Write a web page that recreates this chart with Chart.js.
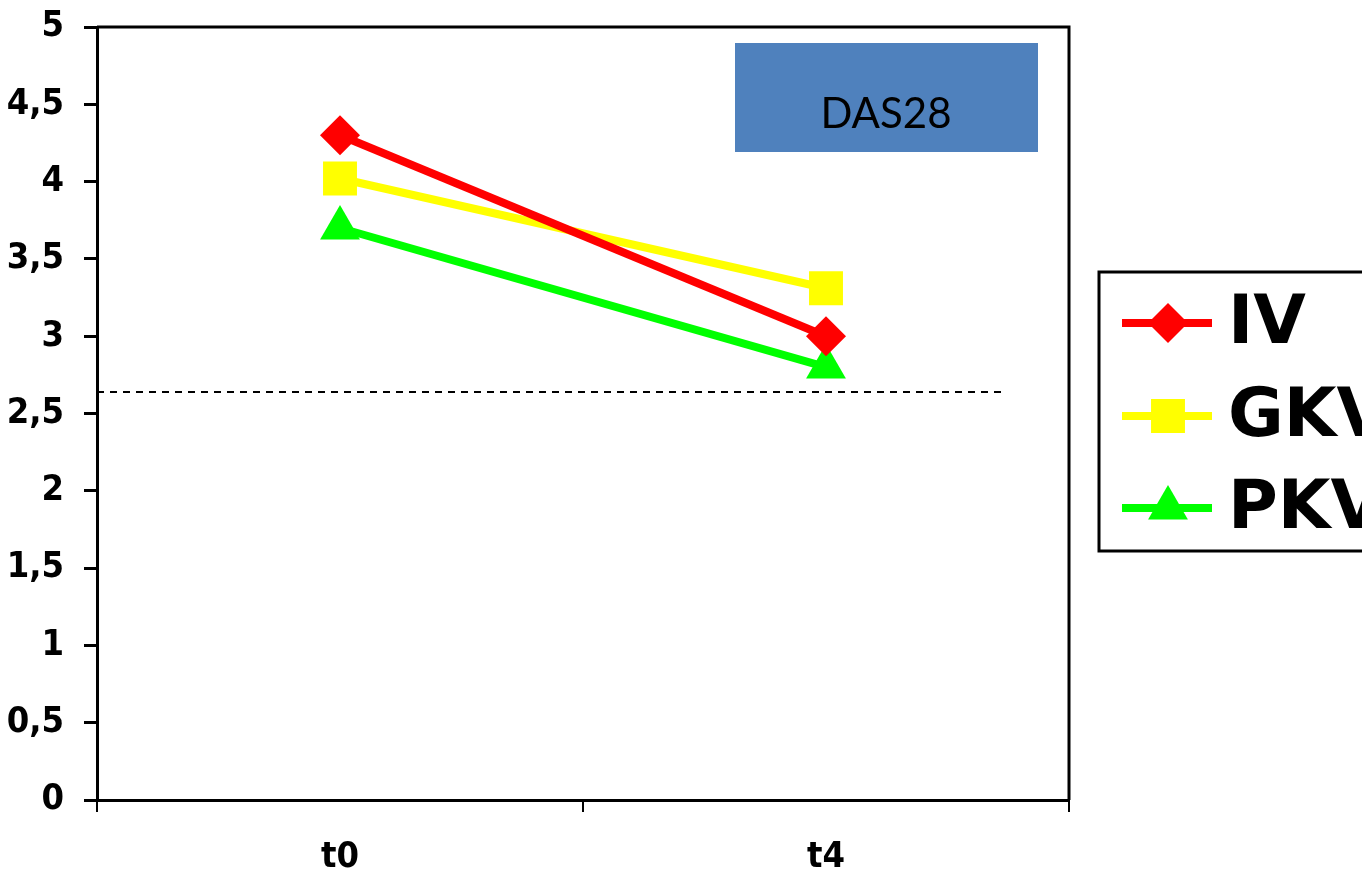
<!DOCTYPE html>
<html>
<head>
<meta charset="utf-8">
<script src="https://cdn.jsdelivr.net/npm/chart.js@4/dist/chart.umd.min.js"></script>
<style>
  html, body { margin: 0; padding: 0; background: #fff; }
  #wrap { width: 1362px; height: 870px; }
</style>
</head>
<body>
<div id="wrap"><canvas id="chart" width="1362" height="870"></canvas></div>
<script>
// Kategorier och serier
const categories = ['t0', 't4'];
const seriesNames = ['IV', 'GKV', 'PKV'];
const ivValues = [4.3, 3.0];
const gkvValues = [4.02, 3.31];
const pkvValues = [3.7, 2.8];
const yTicks = [0, 0.5, 1, 1.5, 2, 2.5, 3, 3.5, 4, 4.5, 5];
const remissionLimit = 2.64; // streckad linje
const boxLabel = 'DAS28';

const colors = ['#FF0000', '#FFFF00', '#00FF00'];
const styles = [
  { pointStyle: 'rectRot', radius: 20 },
  { pointStyle: 'rect', radius: 24 },
  { pointStyle: 'triangle', radius: 23 },
];
const axisFont = { family: 'DejaVu Sans Condensed', weight: 'bold', size: 36 };

function makeDataset(i, values) {
  return {
    label: seriesNames[i],
    data: values,
    borderColor: colors[i],
    backgroundColor: colors[i],
    borderWidth: 8,
    tension: 0,
    pointStyle: styles[i].pointStyle,
    pointRadius: styles[i].radius,
    pointHoverRadius: styles[i].radius,
    pointBackgroundColor: colors[i],
    pointBorderColor: colors[i],
    pointBorderWidth: 0,
  };
}

// Ram, streckad linje, textruta och förklaring
const extras = {
  id: 'extras',
  beforeDatasetsDraw(chart) {
    const { ctx, chartArea, scales } = chart;
    const y = Math.round(scales.y.getPixelForValue(remissionLimit));
    const xEnd = scales.x.getPixelForValue(1.365);
    ctx.save();
    ctx.strokeStyle = '#000';
    ctx.lineWidth = 2;
    ctx.setLineDash([7, 6]);
    ctx.beginPath();
    ctx.moveTo(chartArea.left, y);
    ctx.lineTo(xEnd, y);
    ctx.stroke();
    ctx.restore();
  },
  afterDraw(chart) {
    const { ctx, chartArea } = chart;
    ctx.save();
    // övre och högra kanten
    ctx.strokeStyle = '#000';
    ctx.lineWidth = 3;
    ctx.beginPath();
    ctx.moveTo(chartArea.left, chartArea.top);
    ctx.lineTo(chartArea.right, chartArea.top);
    ctx.lineTo(chartArea.right, chartArea.bottom);
    ctx.stroke();

    // DAS28-rutan
    ctx.fillStyle = '#4F81BD';
    ctx.fillRect(735, 43, 303, 109);
    ctx.fillStyle = '#000';
    ctx.font = '42px Lato';
    ctx.textAlign = 'center';
    ctx.textBaseline = 'middle';
    ctx.fillText(boxLabel, 886, 114);

    // förklaring
    ctx.lineWidth = 3;
    ctx.strokeStyle = '#000';
    ctx.strokeRect(1099, 272, 300, 279);
    const rows = [323, 416, 508];
    chart.data.datasets.forEach((ds, i) => {
      const y = rows[i];
      ctx.strokeStyle = ds.borderColor;
      ctx.lineWidth = 8;
      ctx.beginPath();
      ctx.moveTo(1122, y);
      ctx.lineTo(1212, y);
      ctx.stroke();
      ctx.fillStyle = ds.backgroundColor;
      Chart.helpers.drawPoint(ctx, {
        pointStyle: ds.pointStyle,
        radius: ds.pointRadius,
        borderWidth: 0,
        rotation: 0,
      }, 1168, y);
      ctx.fillStyle = '#000';
      ctx.font = 'bold 68px "DejaVu Sans"';
      ctx.textAlign = 'left';
      ctx.textBaseline = 'middle';
      ctx.fillText(ds.label, 1228, y + 2);
    });
    ctx.restore();
  }
};

new Chart(document.getElementById('chart').getContext('2d'), {
  type: 'line',
  data: {
    labels: categories,
    datasets: [
      makeDataset(0, ivValues),
      makeDataset(1, gkvValues),
      makeDataset(2, pkvValues),
    ],
  },
  options: {
    responsive: false,
    animation: false,
    layout: { padding: { top: 27, right: 293, left: 0, bottom: 0 } },
    plugins: {
      legend: { display: false },
      tooltip: { enabled: false },
    },
    scales: {
      x: {
        offset: true,
        afterFit(scale) {
          scale.height = 70;
          scale.paddingLeft = 0;
          scale.paddingRight = 0;
        },
        border: { color: '#000', width: 3 },
        grid: {
          offset: true,
          drawOnChartArea: false,
          drawTicks: true,
          tickLength: 12,
          color: '#000',
          lineWidth: 2,
        },
        ticks: {
          color: '#000',
          padding: 24,
          font: axisFont,
        },
      },
      y: {
        min: 0,
        max: 5,
        afterFit(scale) {
          scale.width = 97;
          scale.paddingTop = 0;
          scale.paddingBottom = 0;
        },
        afterBuildTicks(scale) {
          scale.ticks = yTicks.map(v => ({ value: v }));
        },
        border: { color: '#000', width: 3 },
        grid: {
          drawOnChartArea: false,
          drawTicks: true,
          tickLength: 13,
          color: '#000',
          lineWidth: 3,
        },
        ticks: {
          color: '#000',
          padding: 20,
          font: axisFont,
          callback: v => String(v).replace('.', ','),
        },
      },
    },
  },
  plugins: [extras],
});
</script>
</body>
</html>
